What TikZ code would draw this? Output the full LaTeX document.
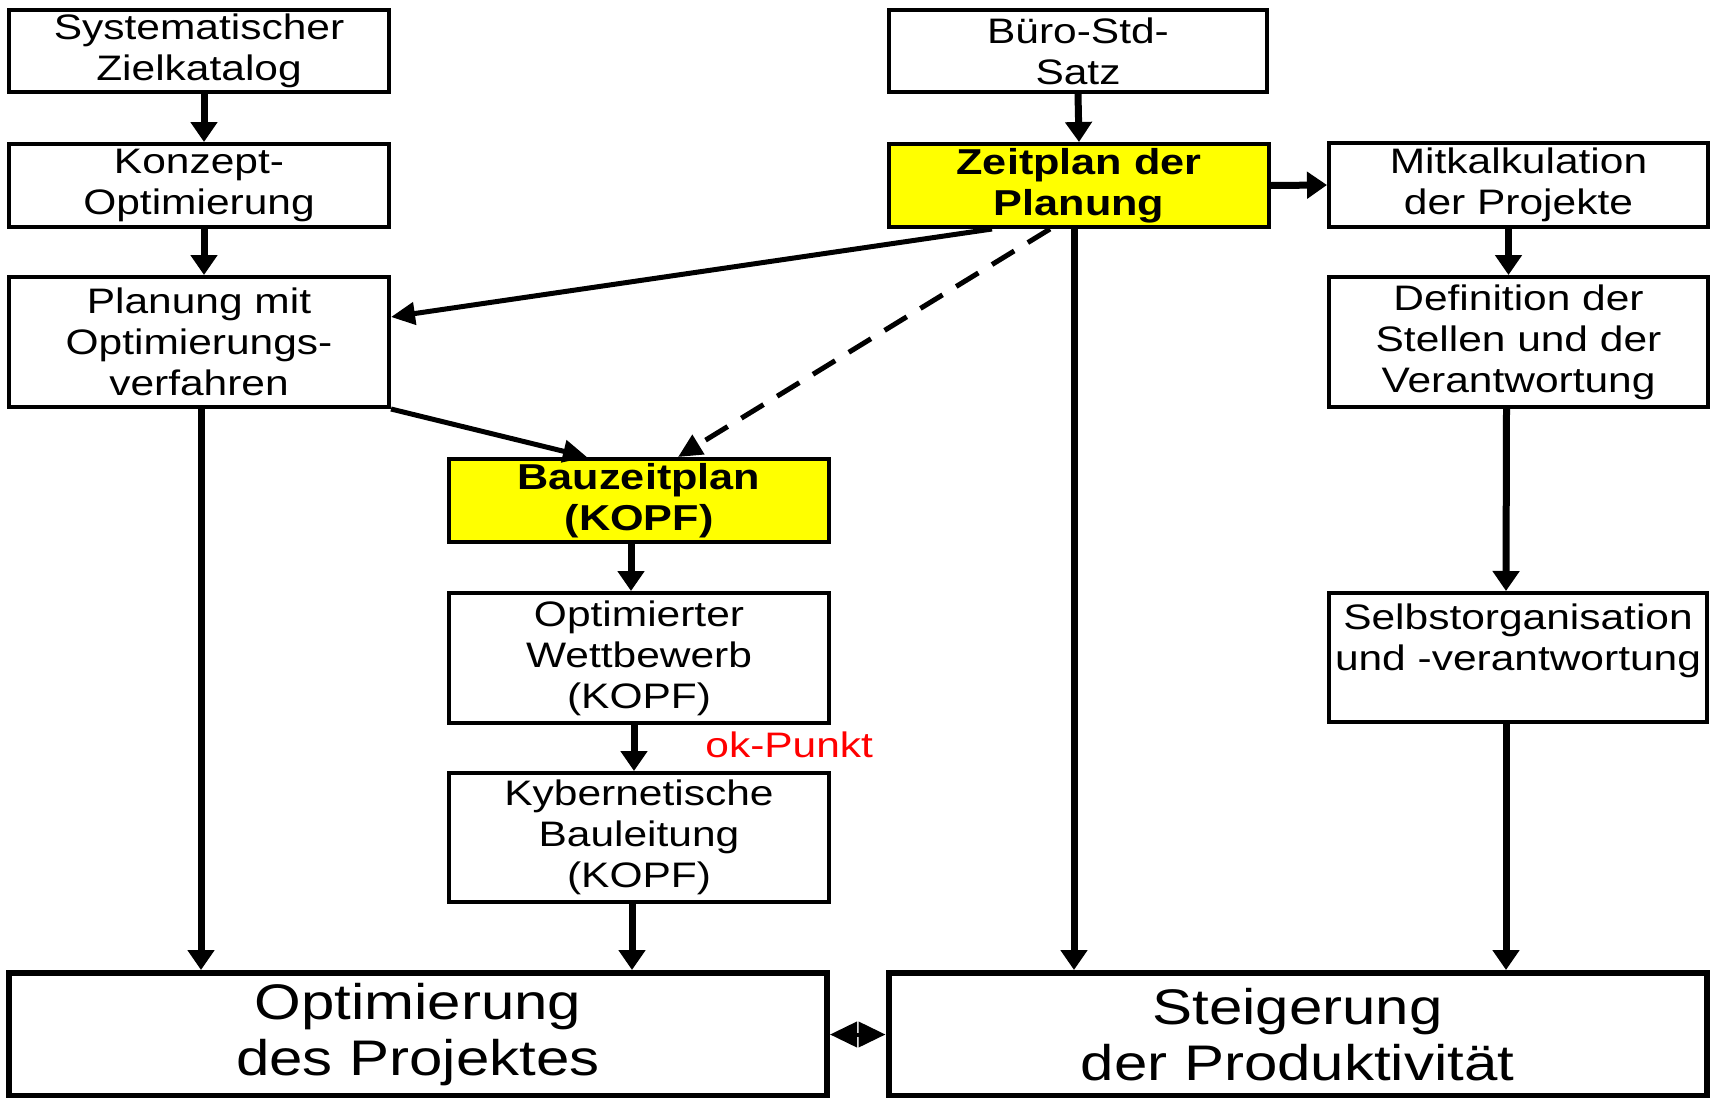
\documentclass[tikz,border=0pt]{standalone}
\usepackage{fontspec}
\setmainfont{Liberation Sans}[FakeStretch=1.2]
\usetikzlibrary{arrows.meta}
\definecolor{hl}{RGB}{255,255,0}
\definecolor{okred}{RGB}{255,0,0}
\begin{document}
\begin{tikzpicture}[x=0.5pt,y=-0.5pt,
  box/.style={draw, line width=2pt, inner sep=0pt, align=center, fill=white,
    minimum width=190pt, font=\fontsize{17.7}{20.5}\selectfont},
  hbox/.style={box, fill=hl, font=\fontsize{18}{20.5}\selectfont\bfseries},
  bigbox/.style={draw, line width=3pt, inner sep=0pt, align=center,
    minimum width=409pt, minimum height=61.5pt, font=\fontsize{25}{28}\selectfont},
  arr/.style={line width=3.5pt, -{Triangle[length=10pt,width=13pt]}},
  darr/.style={line width=2.5pt, -{Triangle[length=12pt,width=11pt]}}]
\useasboundingbox (0,0) rectangle (1714,1098);
% left column
\node[box, minimum height=41pt] (zk) at (199,51) {Systematischer\\Zielkatalog};
\node[box, minimum height=41.5pt] (ko) at (199,185.5) {Konzept-\\Optimierung};
\node[box, minimum height=65pt] (pl) at (199,342) {Planung mit\\Optimierungs-\\verfahren};
% middle column
\node[hbox, minimum height=41.5pt] (bz) at (639,500.5) {Bauzeitplan\\(KOPF)};
\node[box, minimum height=65pt] (ow) at (639,658) {Optimierter\\Wettbewerb\\(KOPF)};
\node[box, minimum height=64.5pt] (kb) at (639,837.5) {Kybernetische\\Bauleitung\\(KOPF)};
% right columns
\node[box, minimum width=189pt, minimum height=41pt] (bu) at (1078,51) {Büro-Std-\\Satz};
\node[hbox, minimum height=41.5pt] (zp) at (1079,185.5) {Zeitplan der\\Planung};
\node[box, minimum width=189.5pt, minimum height=42pt] (mk) at (1518.5,185) {Mitkalkulation\\der Projekte};
\node[box, minimum width=189.5pt, minimum height=65pt] (de) at (1518.5,342) {Definition der\\Stellen und der\\Verantwortung};
\node[box, minimum width=189pt, minimum height=64.5pt] (so) at (1518,657.5) {Selbstorganisation\\und -verantwortung\\\mbox{}};
% bottom
\node[bigbox] (op) at (418,1034.5) {Optimierung\\des Projektes};
\node[bigbox] (st) at (1297.5,1034.5) {Steigerung\\der Produktivität};
% label
\node[anchor=base west, inner sep=0pt, text=okred, font=\fontsize{17.7}{20}\selectfont] (ok) at (705,757) {ok-Punkt};
% connectors
\draw[arr] ([xshift=2.5pt]zk.south) -- ([xshift=2.5pt]ko.north);
\draw[arr] ([xshift=2.5pt]ko.south) -- ([xshift=2.5pt]pl.north);
\draw[arr] ([xshift=1pt]pl.south) -- ([xshift=1pt]pl.south |- op.north);
\draw[arr] (bu.south) -- (zp.north);
\draw[arr] (zp.east) -- (mk.west);
\draw[arr] ([xshift=-5pt]mk.south) -- ([xshift=-5pt]de.north);
\draw[arr] ([xshift=-6pt]de.south) -- ([xshift=-6pt]so.north);
\draw[arr] ([xshift=-6pt]so.south) -- ([xshift=-6pt]so.south |- st.north);
\draw[arr] ([xshift=-2.5pt]zp.south) -- ([xshift=-2.5pt]zp.south |- st.north);
\draw[arr] ([xshift=-4pt]bz.south) -- ([xshift=-4pt]ow.north);
\draw[arr] ([xshift=-2.5pt]ow.south) -- ([xshift=-2.5pt]kb.north);
\draw[arr] ([xshift=-3.5pt]kb.south) -- ([xshift=-3.5pt]kb.south |- op.north);
\draw[darr] ([xshift=-43.5pt]zp.south) -- ([yshift=12.5pt]pl.east);
\draw[darr] (pl.south east) -- ([xshift=-26pt]bz.north);
\draw[darr, dash pattern=on 13pt off 8pt] ([xshift=-14.5pt]zp.south) -- ([xshift=19.5pt]bz.north);
\draw[line width=2pt, {Triangle[length=13.5pt,width=12.5pt]}-{Triangle[length=13.5pt,width=12.5pt]}] (op.east) -- (st.west);
\end{tikzpicture}
\end{document}
